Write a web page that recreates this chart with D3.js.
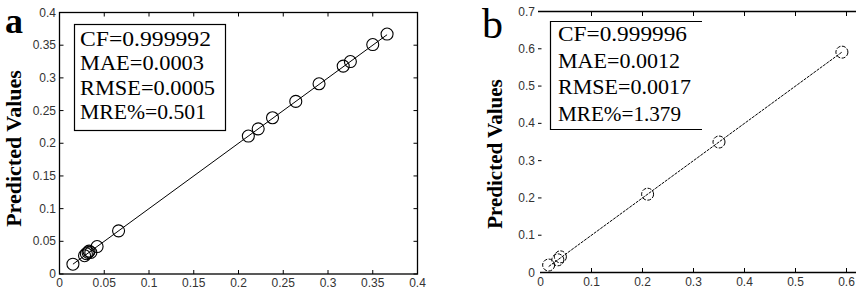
<!DOCTYPE html>
<html><head><meta charset="utf-8">
<script src="https://cdn.jsdelivr.net/npm/d3@7/dist/d3.min.js"></script>
<style>
body{margin:0;background:#fff;}
svg{display:block;}
.serif{font-family:"Liberation Serif","Times New Roman",Times,"DejaVu Serif",serif;}
.sans{font-family:"Liberation Sans",Arial,Helvetica,sans-serif;}
</style></head>
<body><svg id="c" width="856" height="290"></svg>
<script>
// Panel a data
const aActual    = [0.015,0.028,0.030,0.032,0.035,0.033,0.042,0.066,0.211,0.222,0.238,0.264,0.290,0.317,0.325,0.350,0.366];
const aPredicted = [0.015,0.028,0.031,0.033,0.033,0.035,0.042,0.066,0.211,0.222,0.239,0.264,0.291,0.318,0.325,0.351,0.367];
const aXTicks = [0,0.05,0.1,0.15,0.2,0.25,0.3,0.35,0.4];
const aYTicks = [0,0.05,0.1,0.15,0.2,0.25,0.3,0.35,0.4];
const aStats = ["CF=0.999992","MAE=0.0003","RMSE=0.0005","MRE%=0.501"];
// Panel b data
const bActual    = [0.016,0.034,0.039,0.210,0.350,0.591];
const bPredicted = [0.020,0.034,0.042,0.210,0.350,0.591];
const bXTicks = [0,0.1,0.2,0.3,0.4,0.5,0.6];
const bYTicks = [0,0.1,0.2,0.3,0.4,0.5,0.6,0.7];
const bStats = ["CF=0.999996","MAE=0.0012","RMSE=0.0017","MRE%=1.379"];
const yLabel = "Predicted Values";

const svg = d3.select("#c");
const fmt = v => v===0 ? "0" : String(v);

// ---------- Panel a ----------
{
  const x = d3.scaleLinear().domain([0,0.4]).range([59.5,417.5]);
  const y = d3.scaleLinear().domain([0,0.4]).range([274,12.5]);
  const g = svg.append("g");
  g.append("rect").attr("x",59.5).attr("y",12.5).attr("width",358).attr("height",261.5)
    .attr("fill","none").attr("stroke","#000").attr("stroke-width",1.3);
  const tl = 4;
  aXTicks.forEach(t=>{
    g.append("line").attr("x1",x(t)).attr("x2",x(t)).attr("y1",274).attr("y2",274-tl).attr("stroke","#000");
    g.append("line").attr("x1",x(t)).attr("x2",x(t)).attr("y1",12.5).attr("y2",12.5+tl).attr("stroke","#000");
    g.append("text").attr("class","sans").attr("x",x(t)).attr("y",287).attr("text-anchor","middle")
      .attr("font-size",12).attr("fill","#333").text(fmt(t));
  });
  aYTicks.forEach(t=>{
    g.append("line").attr("x1",59.5).attr("x2",59.5+tl).attr("y1",y(t)).attr("y2",y(t)).attr("stroke","#000");
    g.append("line").attr("x1",417.5).attr("x2",417.5-tl).attr("y1",y(t)).attr("y2",y(t)).attr("stroke","#000");
    g.append("text").attr("class","sans").attr("x",56).attr("y",y(t)+4).attr("text-anchor","end")
      .attr("font-size",12).attr("fill","#333").text(fmt(t));
  });
  const lo = d3.min(aActual), hi = d3.max(aActual);
  g.append("line").attr("x1",x(lo)).attr("y1",y(lo)).attr("x2",x(hi)).attr("y2",y(hi))
    .attr("stroke","#000").attr("stroke-width",1);
  g.selectAll("circle.p").data(aActual).enter().append("circle")
    .attr("cx",d=>x(d)).attr("cy",(d,i)=>y(aPredicted[i])).attr("r",6)
    .attr("fill","none").attr("stroke","#000").attr("stroke-width",1.1);
  g.append("rect").attr("x",74.5).attr("y",24.5).attr("width",151).attr("height",106)
    .attr("fill","#fff").attr("stroke","#000").attr("stroke-width",1.2);
  aStats.forEach((s,i)=>{
    g.append("text").attr("class","serif").attr("x",80).attr("y",46+i*24.4)
      .attr("font-size",22).attr("lengthAdjust","spacingAndGlyphs")
      .attr("textLength", [131,124,135,126][i]).text(s);
  });
  g.append("text").attr("class","serif").attr("transform","translate(20.5,148.5) rotate(-90)").attr("text-anchor","middle")
    .attr("font-weight","bold").attr("font-size",22).text(yLabel);
  g.append("text").attr("class","serif").attr("x",5).attr("y",33).attr("font-weight","bold")
    .attr("font-size",36).text("a");
}

// ---------- Panel b ----------
{
  const x = d3.scaleLinear().domain([0,0.7]).range([540.5,897.5]);
  const y = d3.scaleLinear().domain([0,0.7]).range([272.5,11.5]);
  const g = svg.append("g");
  g.append("line").attr("x1",538).attr("x2",856).attr("y1",11.5).attr("y2",11.5).attr("stroke","#000").attr("stroke-width",1.3);
  g.append("line").attr("x1",540).attr("x2",856).attr("y1",272.5).attr("y2",272.5).attr("stroke","#000").attr("stroke-width",1.3);
  bXTicks.forEach(t=>{
    if(t>0){
      g.append("line").attr("x1",x(t)).attr("x2",x(t)).attr("y1",272.5).attr("y2",268).attr("stroke","#000");
      g.append("line").attr("x1",x(t)).attr("x2",x(t)).attr("y1",11.5).attr("y2",16).attr("stroke","#000");
    }
    g.append("text").attr("class","sans").attr("x",x(t)).attr("y",286).attr("text-anchor","middle")
      .attr("font-size",12).attr("fill","#333").text(fmt(t));
  });
  bYTicks.forEach(t=>{
    if(t>0 && t<0.7){
      g.append("line").attr("x1",538).attr("x2",541.5).attr("y1",y(t)).attr("y2",y(t)).attr("stroke","#000");
    }
    g.append("text").attr("class","sans").attr("x",535).attr("y",y(t)+4).attr("text-anchor","end")
      .attr("font-size",12).attr("fill","#333").text(fmt(t));
  });
  const lo = d3.min(bActual), hi = d3.max(bActual);
  g.append("line").attr("x1",x(lo)).attr("y1",y(lo)).attr("x2",x(hi)).attr("y2",y(hi))
    .attr("stroke","#000").attr("stroke-width",1).attr("stroke-dasharray","3,1");
  g.selectAll("circle.p").data(bActual).enter().append("circle")
    .attr("cx",d=>x(d)).attr("cy",(d,i)=>y(bPredicted[i])).attr("r",6)
    .attr("fill","none").attr("stroke","#000").attr("stroke-width",1)
    .attr("stroke-dasharray","4,1.5");
  g.append("path").attr("d","M702,21.5 H550.5 V129.5 H702").attr("fill","none")
    .attr("stroke","#000").attr("stroke-width",1.2);
  bStats.forEach((s,i)=>{
    g.append("text").attr("class","serif").attr("x",558).attr("y",41+i*26.6)
      .attr("font-size",22).attr("textLength",[129,122,133,123][i]).attr("lengthAdjust","spacingAndGlyphs").text(s);
  });
  g.append("text").attr("class","serif").attr("transform","translate(502,154) rotate(-90)").attr("text-anchor","middle")
    .attr("font-weight","bold").attr("font-size",21).text(yLabel);
  g.append("text").attr("class","serif").attr("x",482).attr("y",38)
    .attr("font-size",42).text("b");
}
</script></body></html>
